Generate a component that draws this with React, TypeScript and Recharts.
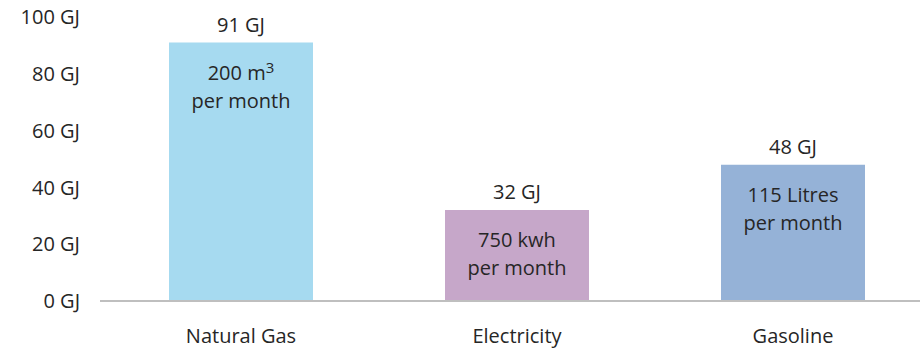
import React from "react";
import { BarChart, Bar, XAxis, YAxis, Cell, LabelList } from "recharts";

const categories = ["Natural Gas", "Electricity", "Gasoline"];
const energyGJ = [91, 32, 48];
const usageLabels = ["200 m³", "750 kwh", "115 Litres"];
const periodLabel = "per month";
const barColors = ["#A6DAF0", "#C6A7C9", "#95B2D7"];
const yTicks = [0, 20, 40, 60, 80, 100];

const data = categories.map((name, i) => ({
  name,
  value: energyGJ[i],
  usage: usageLabels[i],
}));

const FONT = "'Open Sans', sans-serif";
const TEXT = "#262626";

// Renders "³" as a raised, smaller digit like a typeset superscript.
const withSuperscript = (label: string) => {
  const parts = label.split("³");
  if (parts.length === 1) return label;
  return (
    <>
      {parts[0]}
      <tspan fontSize={15} dy={-7}>3</tspan>
      <tspan dy={7}>{parts[1]}</tspan>
    </>
  );
};

const BarLabels = (props: any) => {
  const { x, y, width, index, value } = props;
  const cx = x + width / 2;
  return (
    <g fontFamily={FONT} fontSize={20} fill={TEXT} textAnchor="middle">
      <text x={cx} y={y - 18} dy="0.355em">{`${value} GJ`}</text>
      <text x={cx} y={y + 30} dy="0.355em">{withSuperscript(usageLabels[index])}</text>
      <text x={cx} y={y + 58} dy="0.355em">{periodLabel}</text>
    </g>
  );
};

const CategoryTick = (props: any) => {
  const { x, y, payload } = props;
  return (
    <text x={x} y={y} dy={34} textAnchor="middle" fontFamily={FONT} fontSize={20} fill={TEXT}>
      {payload.value}
    </text>
  );
};

const ValueTick = (props: any) => {
  const { x, y, payload } = props;
  return (
    <text x={x} y={y} dy="0.355em" textAnchor="end" fontFamily={FONT} fontSize={20} fill={TEXT}>
      {`${payload.value} GJ`}
    </text>
  );
};

export default function App() {
  return (
    <>
      <style>{"body { margin: 0; }"}</style>
      <div style={{ width: 920, height: 348, overflow: "hidden", background: "#fff" }}>
        <BarChart
          width={935}
          height={348}
          data={data}
          margin={{ top: 17, right: 4, bottom: 0, left: 0 }}
        >
          <XAxis
            dataKey="name"
            height={47}
            padding={{ left: 3, right: 0 }}
            axisLine={{ stroke: "#BFBFBF", strokeWidth: 2 }}
            tickLine={false}
            tick={<CategoryTick />}
          />
          <YAxis
            width={100}
            domain={[0, 100]}
            ticks={yTicks}
            axisLine={false}
            tickLine={false}
            tickSize={0}
            tickMargin={20}
            tick={<ValueTick />}
          />
          <Bar dataKey="value" barSize={144} isAnimationActive={false}>
            {data.map((d, i) => (
              <Cell key={d.name} fill={barColors[i]} />
            ))}
            <LabelList dataKey="value" content={<BarLabels />} />
          </Bar>
        </BarChart>
      </div>
    </>
  );
}
